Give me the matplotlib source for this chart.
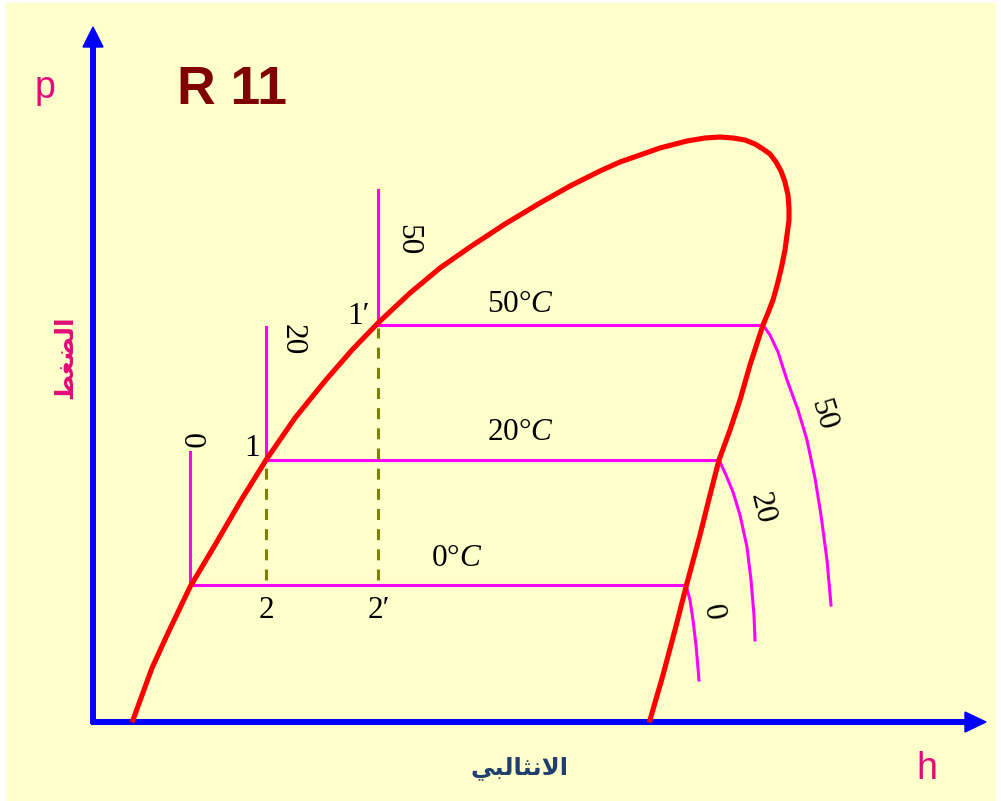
import matplotlib
matplotlib.use("Agg")
import matplotlib.pyplot as plt
from matplotlib.patches import Rectangle, Polygon

plt.rcParams['mathtext.fontset'] = 'custom'
plt.rcParams['mathtext.rm'] = 'Liberation Serif'
plt.rcParams['mathtext.it'] = 'Liberation Serif:italic'

# ---- data (h, p in diagram units; origin at the axes crossing) ----
dome_h = [40, 48, 59, 75, 97, 122, 147, 173, 202, 232, 259, 285, 317, 347, 377,
          412, 447, 477, 507, 527, 547, 567, 594, 612, 627, 640, 652, 662, 670, 677,
          683, 688, 692, 695, 696, 696, 694, 692, 689, 685, 680, 675, 670, 657, 647,
          637, 626, 617, 607, 593, 582, 570, 557]
dome_p = [2, 24, 54, 89, 135, 177, 220, 262, 304, 341, 372, 399, 429, 454, 475,
          498, 519, 536, 551, 560, 567, 574, 581, 584, 585, 584, 582, 578, 573, 568,
          560, 551, 540, 527, 514, 502, 487, 472, 457, 440, 422, 409, 397, 357, 322,
          292, 262, 227, 187, 135, 92, 47, 2]

temps = ["0", "20", "50"]
# saturated liquid point (start of horizontal), saturated vapour point, top of vertical
liq_h = [97, 173, 285]
iso_p = [137, 262, 397]
vert_top_p = [270, 395, 532]
vap_h = [593, 626, 670]
# superheated branches
sup_h = [[593, 597, 600, 603, 606],
         [626, 633, 640, 647, 654, 658, 661, 662],
         [670, 677, 685, 694, 705, 714, 722, 728, 734, 738]]
sup_p = [[137, 122, 102, 77, 42],
         [262, 247, 230, 207, 175, 142, 107, 82],
         [397, 387, 370, 342, 312, 282, 244, 207, 162, 117]]

# dashed quality lines: points 1 -> 2 and 1' -> 2'
dash_h = [173, 285]
dash_top_p = [260, 394]
dash_bot_p = [142, 142]

bg = "#FFFFCC"
fig = plt.figure(figsize=(10.01, 8.01), dpi=100)
ax = fig.add_axes([0, 0, 1, 1])
ax.set_xlim(-93, 908)
ax.set_ylim(-79, 722)
ax.axis('off')
fig.patch.set_facecolor('white')
ax.add_patch(Rectangle((-87, -79), 990, 798, facecolor=bg, edgecolor='none', zorder=0))

# axes arrows
blue = "#0000FF"
ax.plot([0, 0], [-2, 676], color=blue, lw=4.3, solid_capstyle='butt', zorder=2)
ax.plot([-2, 873], [0, 0], color=blue, lw=4.3, solid_capstyle='butt', zorder=2)
ax.add_patch(Polygon([[-10, 675], [10, 675], [0, 695]], closed=True, color=blue, zorder=2))
ax.add_patch(Polygon([[872, -10], [872, 10], [893, 0]], closed=True, color=blue, zorder=2))

# dome
ax.plot(dome_h, dome_p, color="#FF0000", lw=3.7, zorder=4, solid_joinstyle='round')

# isotherms
mag = "#FF00FF"
for i in range(3):
    ax.plot([liq_h[i], liq_h[i], vap_h[i]], [vert_top_p[i], iso_p[i], iso_p[i]],
            color=mag, lw=2.2, zorder=3)
    ax.plot(sup_h[i], sup_p[i], color=mag, lw=2.2, zorder=3, solid_joinstyle='round')

# dashed lines
for i in range(2):
    ax.plot([dash_h[i], dash_h[i]], [dash_bot_p[i], dash_top_p[i]], color="#808000",
            lw=2.2, dashes=(3.6, 3.0), zorder=3)

serif = 'Liberation Serif'
fs = 22.5
# labels along vertical lines
vl_h = [97, 199, 315]
vl_p = [281, 382, 482]
for i, t in enumerate(temps):
    ax.text(vl_h[i], vl_p[i], t, rotation=-90, ha='center', va='center',
            family=serif, fontsize=fs)
# labels along superheated lines
lab_pos_h = [619, 669, 730]
lab_pos_p = [110, 214, 307]
lab_rot = [-80, -76, -73]
for i, t in enumerate(temps):
    ax.text(lab_pos_h[i], lab_pos_p[i], t, rotation=lab_rot[i], ha='center', va='center',
            family=serif, fontsize=fs)
# temperature labels on horizontals
tl_h = [364, 427, 427]
tl_p = [164, 290, 419]
for i, t in enumerate(temps):
    ax.text(tl_h[i], tl_p[i], r'$\mathrm{' + t + '°}\mathit{C}$', ha='center', va='center',
            fontsize=fs)

# state point labels
ax.text(159, 274, "1", ha='center', va='center', family=serif, fontsize=fs)
ax.text(265, 405, "1′", ha='center', va='center', family=serif, fontsize=fs)
ax.text(173, 112, "2", ha='center', va='center', family=serif, fontsize=fs)
ax.text(286, 112, "2′", ha='center', va='center', family=serif, fontsize=fs)

# titles
ax.text(139, 632, "R 11", ha='center', va='center', family='Liberation Sans',
        fontweight='bold', fontsize=38.5, color="#800000")
pink = "#E4097A"
ax.text(-48, 634, "p", ha='center', va='center', family='Liberation Sans',
        fontsize=27, color=pink)
ax.text(834, -47, "h", ha='center', va='center', family='Liberation Sans',
        fontsize=27, color=pink)
# Arabic labels (presentation forms, visual order): الضغط / الانثالبي
ax.text(-28, 365, "\ufec2\ufed0\ufec0\ufedf\ufe8d", rotation=90, ha='center', va='center',
        family='DejaVu Sans', fontweight='bold', fontsize=18, color=pink)
ax.text(427, -46, "\ufef2\ufe92\ufedf\ufe8e\ufe9c\ufee7\ufefb\ufe8d", ha='center', va='center',
        family='DejaVu Sans', fontweight='bold', fontsize=17.5, color="#1F3F70")

fig.savefig("out.png", dpi=100, facecolor=fig.get_facecolor())
